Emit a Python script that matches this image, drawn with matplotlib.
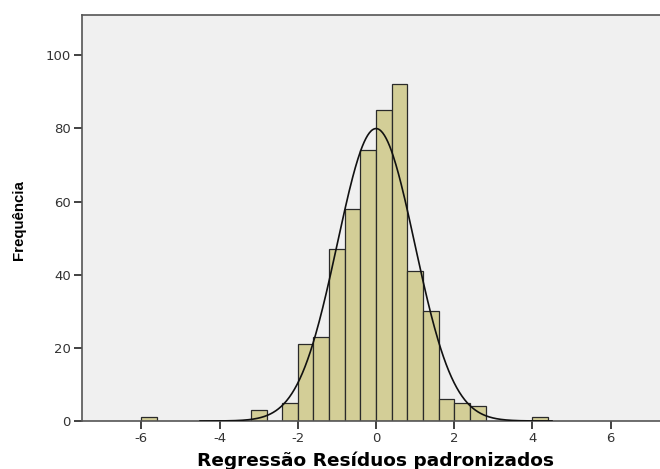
import numpy as np
import matplotlib
matplotlib.use("Agg")
import matplotlib.pyplot as plt

plt.rcParams["axes.unicode_minus"] = False
plt.rcParams["font.family"] = ["DejaVu Sans"]

# histogram of standardized residuals (bin width 0.4)
bin_left = [-6.0, -3.2, -2.4, -2.0, -1.6, -1.2, -0.8, -0.4, 0.0, 0.4, 0.8, 1.2, 1.6, 2.0, 2.4, 4.0]
counts = [1, 3, 5, 21, 23, 47, 58, 74, 85, 92, 41, 30, 6, 5, 4, 1]
bin_width = 0.4
x_ticks = [-6, -4, -2, 0, 2, 4, 6]
y_ticks = [0, 20, 40, 60, 80, 100]

# normal curve parameters (from data summary)
mean, sd = 0.0, 0.99
n = sum(counts)

fig = plt.figure(figsize=(6.6, 4.69), dpi=100)
ax = fig.add_axes([82 / 660, 48 / 469, 1.0, (421 - 15) / 469])
ax.set_facecolor("#f0f0f0")

ax.bar(bin_left, counts, width=bin_width, align="edge", color="#d3ce97",
       edgecolor="#2a2a2a", linewidth=0.9, zorder=2)

xs = np.linspace(-4.5, 4.5, 400)
ys = n * bin_width / (sd * np.sqrt(2 * np.pi)) * np.exp(-0.5 * ((xs - mean) / sd) ** 2)
ax.plot(xs, ys, color="#111111", linewidth=1.2, zorder=3)

ax.set_xlim(-7.52, -7.52 + 660 / 39.1)
ax.set_ylim(0, 111)
ax.set_xticks(x_ticks)
ax.set_yticks(y_ticks)
ax.tick_params(direction="out", length=6, width=1.3, color="#333333",
               labelsize=9.5, labelcolor="#333333", pad=2)
for s in ["left", "bottom", "top"]:
    ax.spines[s].set_color("#555555")
    ax.spines[s].set_linewidth(1.2)
ax.spines["right"].set_visible(False)

fig.text(375 / 660, 1 - 461 / 469, "Regressão Resíduos padronizados",
         fontsize=13.3, fontweight="bold", ha="center", va="center")
fig.text(19 / 660, 1 - 220 / 469, "Frequência", rotation=90,
         fontsize=10.8, fontweight="bold",
         family=["Liberation Sans Narrow", "Liberation Sans"],
         ha="center", va="center")

fig.savefig("out.png", dpi=100)
